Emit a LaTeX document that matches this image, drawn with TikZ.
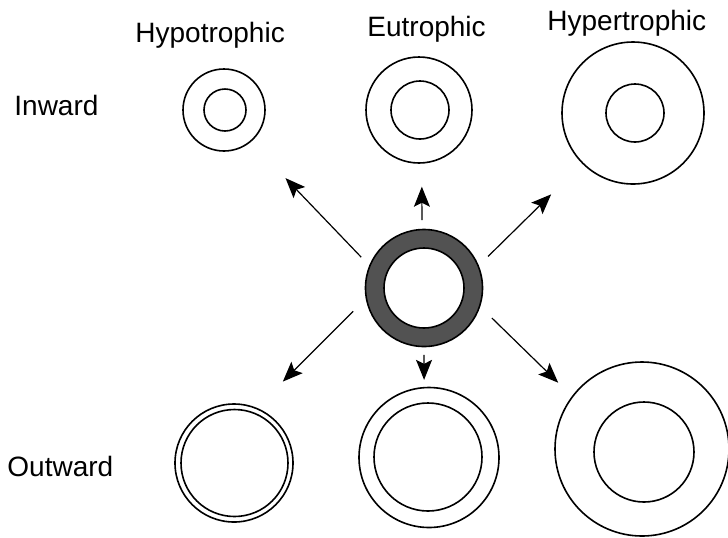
\documentclass[tikz,border=0pt]{standalone}
\usepackage{fontspec}
\setmainfont{Liberation Sans}
\usepackage{tikz}
\usetikzlibrary{arrows.meta, positioning, calc}

\begin{document}
\begin{tikzpicture}[
    x=0.5pt, y=-0.5pt,
    vessel/.style={draw=black, line width=0.8pt, circle, inner sep=0pt, outer sep=0pt, minimum size=#1},
    vessel/.default=40pt,
    wall/.style={vessel=#1, fill=black!68},
    lumen/.style={vessel=#1, fill=white},
    remodel/.style={line width=0.6pt, -{Stealth[length=10pt, width=8pt, inset=2pt]}},
    label/.style={font=\fontsize{14}{16}\selectfont, inner sep=0pt, anchor=base west}
]
\useasboundingbox (0,0) rectangle (728,537);

% Knoten
\node[label] (hypo) at (135,42) {Hypotrophic};
\node[label] (eu) at (367,36) {Eutrophic};
\node[label] (hyper) at (547,30) {Hypertrophic};
\node[label] (inward) at (14,115) {Inward};
\node[label] (outward) at (7,476) {Outward};

\node[vessel=41pt] (inHypoO) at (224,110) {};
\node[vessel=21pt] (inHypoI) at (225,110) {};
\node[vessel=53pt] (inEuO) at (419,110) {};
\node[vessel=29pt] (inEuI) at (420,110) {};
\node[vessel=71pt] (inHyperO) at (633,113) {};
\node[vessel=29pt] (inHyperI) at (635,113) {};

\node[wall=58.5pt] (wallO) at (424,288) {};
\node[lumen=40pt] (wallI) at (424,288) {};

\node[vessel=59pt] (outHypoO) at (234,463) {};
\node[vessel=53.5pt] (outHypoI) at (234.5,463) {};
\node[vessel=70pt] (outEuO) at (429,457.5) {};
\node[vessel=54pt] (outEuI) at (428,457) {};
\node[vessel=87pt] (outHyperO) at (642,449) {};
\node[vessel=50pt] (outHyperI) at (644,452) {};

% Pfeile
\draw[remodel, shorten <=6.2pt, shorten >=25.4pt] (wallO.158) -- (inHypoO.-50);
\draw[remodel, shorten <=4.7pt, shorten >=11.9pt] (wallO.92) -- (inEuO.-87);
\draw[remodel, shorten <=6.9pt, shorten >=22.2pt] (wallO.22) -- (inHyperO.-135);
\draw[remodel, shorten <=9.3pt, shorten >=18.9pt] (wallO.190) -- (outHypoO.68);
\draw[remodel, shorten <=4.2pt, shorten >=3.9pt] (wallO.-90) -- (outEuO.94);
\draw[remodel, shorten <=8.5pt, shorten >=10pt] (wallO.-18) -- (outHyperO.143);

\end{tikzpicture}
\end{document}
